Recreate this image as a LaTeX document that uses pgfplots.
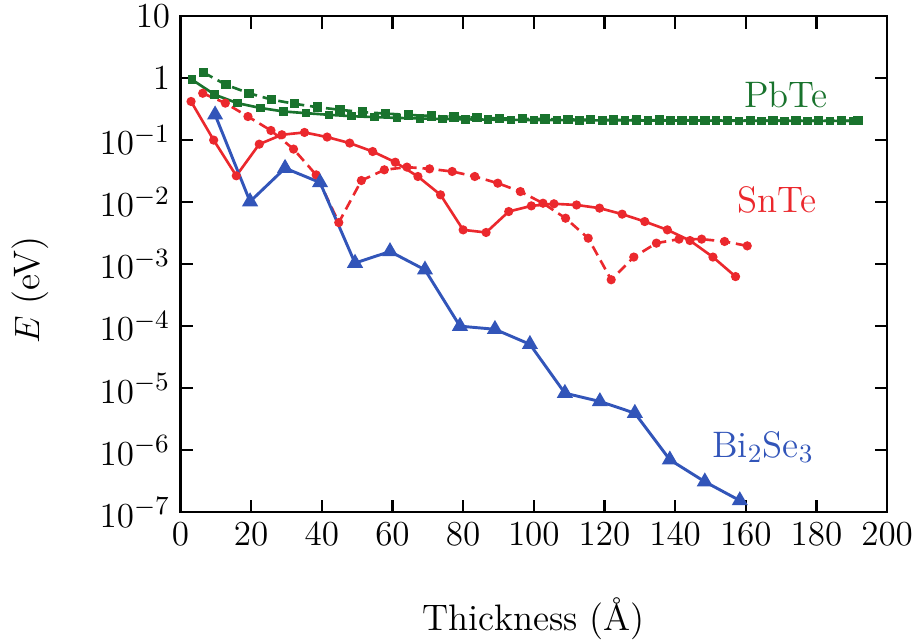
\documentclass[border=0pt]{standalone}
\usepackage{pgfplots}
\pgfplotsset{compat=1.18}
\definecolor{cgreen}{RGB}{25,115,45}
\definecolor{cred}{RGB}{235,40,45}
\definecolor{cblue}{RGB}{50,85,185}
\newcommand{\figfont}{\fontsize{12.6}{15}\selectfont}
\begin{document}
\begin{tikzpicture}[font=\figfont]
\begin{axis}[
  scale only axis,
  width=241.6pt, height=169.6pt,
  xmin=0, xmax=200, ymode=log, ymin=1e-7, ymax=10,
  xtick={0,20,...,200},
  ytick={1e-7,1e-6,1e-5,1e-4,1e-3,1e-2,1e-1,1,10},
  yticklabels={$10^{-7}$,$10^{-6}$,$10^{-5}$,$10^{-4}$,$10^{-3}$,$10^{-2}$,$10^{-1}$,$1$,$10$},
  yminorticks=false,
  tick align=inside,
  tick label style={font=\figfont},
  label style={font=\figfont},
  axis line style={line width=0.8pt},
  major tick style={line width=0.8pt, black},
  xlabel={Thickness (\AA)},
  ylabel={$E$ (eV)},
  xlabel style={at={(axis description cs:0.5,-0.215)}, anchor=center},
  ylabel style={at={(axis description cs:-0.213,0.448)}, anchor=center},
  clip=false,
]
\coordinate (O) at (rel axis cs:0,0);
\coordinate (T) at (rel axis cs:1,1);
% PbTe solid
\addplot[cgreen, line width=0.9pt, mark=square*, mark size=1.0pt] coordinates {
(3.2,0.95)(9.7,0.54)(16.1,0.395)(22.6,0.33)(29.1,0.29)(35.5,0.272)(42.0,0.256)(48.4,0.243)
(54.9,0.235)(61.3,0.228)(67.8,0.223)(74.2,0.219)(80.7,0.216)(87.1,0.214)(93.6,0.212)(100.0,0.211)
(106.5,0.210)(112.9,0.209)(119.4,0.208)(125.8,0.208)(132.3,0.207)(138.7,0.207)(145.2,0.206)(151.6,0.206)
(158.1,0.205)(164.5,0.205)(171.0,0.205)(177.4,0.204)(183.9,0.204)(190.3,0.204)};
% PbTe dashed
\addplot[cgreen, line width=0.9pt, dash pattern=on 3.5pt off 2pt, mark=square*, mark size=1.15pt, mark options={solid}] coordinates {
(6.5,1.23)(12.9,0.78)(19.4,0.57)(25.8,0.45)(32.3,0.385)(38.7,0.34)(45.2,0.308)(51.6,0.283)
(58.1,0.268)(64.5,0.255)(71.0,0.245)(77.4,0.237)(83.9,0.230)(90.3,0.225)(96.8,0.221)(103.2,0.218)
(109.7,0.215)(116.1,0.213)(122.6,0.212)(129.0,0.211)(135.5,0.210)(141.9,0.209)(148.4,0.208)(154.8,0.207)
(161.3,0.207)(167.7,0.206)(174.2,0.206)(180.6,0.205)(187.1,0.205)(191.8,0.205)};
% SnTe solid
\addplot[cred, line width=0.9pt, mark=*, mark size=1.1pt] coordinates {
(3.0,0.42)(9.4,0.10)(15.8,0.0266)(22.3,0.086)(28.7,0.122)(35.1,0.133)(41.5,0.112)(47.9,0.0895)
(54.4,0.0655)(60.8,0.044)(67.2,0.0259)(73.6,0.0131)(80.0,0.00357)(86.5,0.00324)(92.9,0.00705)(99.3,0.0087)
(105.7,0.0094)(112.1,0.0090)(118.6,0.0080)(125.0,0.0064)(131.4,0.00486)(137.8,0.00357)(144.2,0.0024)(150.7,0.0013)
(157.1,0.00063)};
% SnTe dashed
\addplot[cred, line width=0.9pt, dash pattern=on 3.5pt off 2pt, mark=*, mark size=1.1pt, mark options={solid}] coordinates {
(6.3,0.57)(12.7,0.395)(19.1,0.24)(25.6,0.143)(32.0,0.0716)(38.4,0.0275)(44.8,0.00468)(51.2,0.0223)
(57.7,0.0332)(64.1,0.0367)(70.5,0.0344)(76.9,0.0312)(83.3,0.0259)(89.8,0.0202)(96.2,0.0148)(102.6,0.0096)
(109.0,0.0055)(115.4,0.00262)(121.9,0.00056)(128.3,0.0013)(134.7,0.00218)(141.1,0.00253)(147.5,0.00253)(154.0,0.00232)
(160.4,0.00197)};
% Bi2Se3
\addplot[cblue, line width=1pt, mark=triangle*, mark size=2.2pt] coordinates {
(9.8,0.256)(19.7,0.0102)(29.6,0.0353)(39.5,0.0207)(49.4,0.00104)(59.3,0.0016)(69.2,0.00081)(79.1,1.0e-4)
(89.0,8.9e-5)(98.9,5.1e-5)(108.8,8.3e-6)(118.7,6.1e-6)(128.6,3.95e-6)(138.5,7.0e-7)(148.4,3.1e-7)(158.3,1.54e-7)};
\node[text=cgreen] at (axis cs:171.4,0.537) {PbTe};
\node[text=cred] at (axis cs:168.9,0.0109) {SnTe};
\node[text=cblue] at (axis cs:164.9,1.13e-6) {Bi$_2$Se$_3$};
\end{axis}
\pgfresetboundingbox
\path[use as bounding box] ([shift={(-61.7pt,-44.8pt)}]O) rectangle ([shift={(12.6pt,5.5pt)}]T);
\end{tikzpicture}
\end{document}
